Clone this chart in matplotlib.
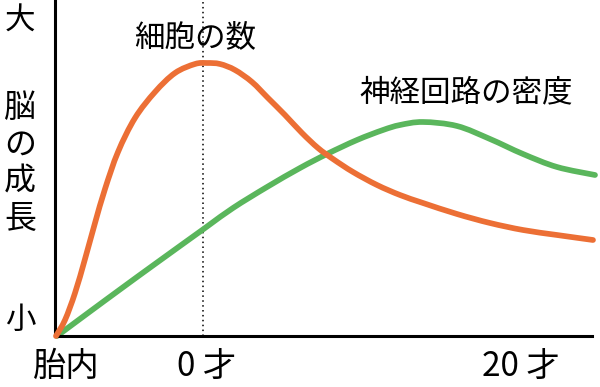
import matplotlib
matplotlib.use("Agg")
import matplotlib.pyplot as plt
from matplotlib.path import Path
from matplotlib.patches import PathPatch

plt.rcParams['font.family'] = ['Noto Sans CJK JP', 'DejaVu Sans']

# Data (arbitrary growth units)
cell_x = [1, 10, 20, 30, 40, 50, 63, 80, 100, 120, 140, 152, 165, 180, 197,
          213, 230, 247, 263, 278, 298, 322, 345, 368, 402, 435, 468, 502, 538]
cell_y = [0, 16, 43, 77, 113, 147, 184, 218, 244, 263, 272, 273, 272, 266, 254,
          238, 221, 203, 188, 177, 164, 151, 141, 133, 122, 113, 106, 101, 96]
net_x = [2, 33, 67, 100, 150, 178, 212, 245, 272, 302, 328, 345, 368, 402,
         435, 468, 502, 540]
net_y = [0, 23, 48, 72, 108, 128, 149, 168, 182, 196, 206, 211, 214, 210,
         197, 182, 169, 161]
birth_x = 148
series_labels = ['細胞の数', '神経回路の密度']
x_labels = ['胎内', '0 才', '20 才']
x_label_pos = [11, 152, 466]
y_axis_chars = ['脳', 'の', '成', '長']
y_top, y_bottom = '大', '小'

W, H = 600, 387
fig = plt.figure(figsize=(6, 3.87), dpi=100)
ax = fig.add_axes([55 / W, 1 - 336 / H, (W - 55) / W, 336 / H])
ax.set_xlim(0, 545)
ax.set_ylim(0, 336)

orange = '#EC6F35'
green = '#5AB65C'


def smooth_path(xs, ys):
    """Catmull-Rom curve through the read points, drawn as Bezier segments."""
    pts = list(zip(xs, ys))
    n = len(pts)
    verts = [pts[0]]
    codes = [Path.MOVETO]
    for i in range(n - 1):
        p0 = pts[i - 1] if i > 0 else pts[i]
        p1 = pts[i]
        p2 = pts[i + 1]
        p3 = pts[i + 2] if i + 2 < n else pts[i + 1]
        c1 = (p1[0] + (p2[0] - p0[0]) / 6, p1[1] + (p2[1] - p0[1]) / 6)
        c2 = (p2[0] - (p3[0] - p1[0]) / 6, p2[1] - (p3[1] - p1[1]) / 6)
        verts += [c1, c2, p2]
        codes += [Path.CURVE4] * 3
    return Path(verts, codes)


ax.plot([birth_x, birth_x], [0, 336], color='black', lw=1.1,
        linestyle=(0, (1, 2.2)), clip_on=False, zorder=1)
for xs, ys, col, z in [(net_x, net_y, green, 2), (cell_x, cell_y, orange, 3)]:
    patch = PathPatch(smooth_path(xs, ys), facecolor='none', edgecolor=col,
                      lw=4.1, capstyle='round', joinstyle='round',
                      clip_on=False, zorder=z)
    ax.add_patch(patch)

for s in ['top', 'right']:
    ax.spines[s].set_visible(False)
ax.spines['left'].set_linewidth(2.2)
ax.spines['bottom'].set_linewidth(2.2)
ax.spines['bottom'].set_bounds(0, 537)
ax.set_xticks([])
ax.set_yticks([])
ax.patch.set_alpha(0)


def ftext(px, py, s, size, **kw):
    fig.text(px / W, 1 - py / H, s, fontsize=size, ha='center', va='center', **kw)


ftext(195, 38, series_labels[0], 22)
ftext(466, 93, series_labels[1], 22)
ftext(20, 21, y_top, 22)
ftext(20, 320, y_bottom, 22)
for i, ch in enumerate(y_axis_chars):
    ftext(20, 108 + i * 37, ch, 23)
for lab, xp in zip(x_labels, x_label_pos):
    ftext(xp + 55, 366, lab, 24)

fig.savefig('out.png', dpi=100)
